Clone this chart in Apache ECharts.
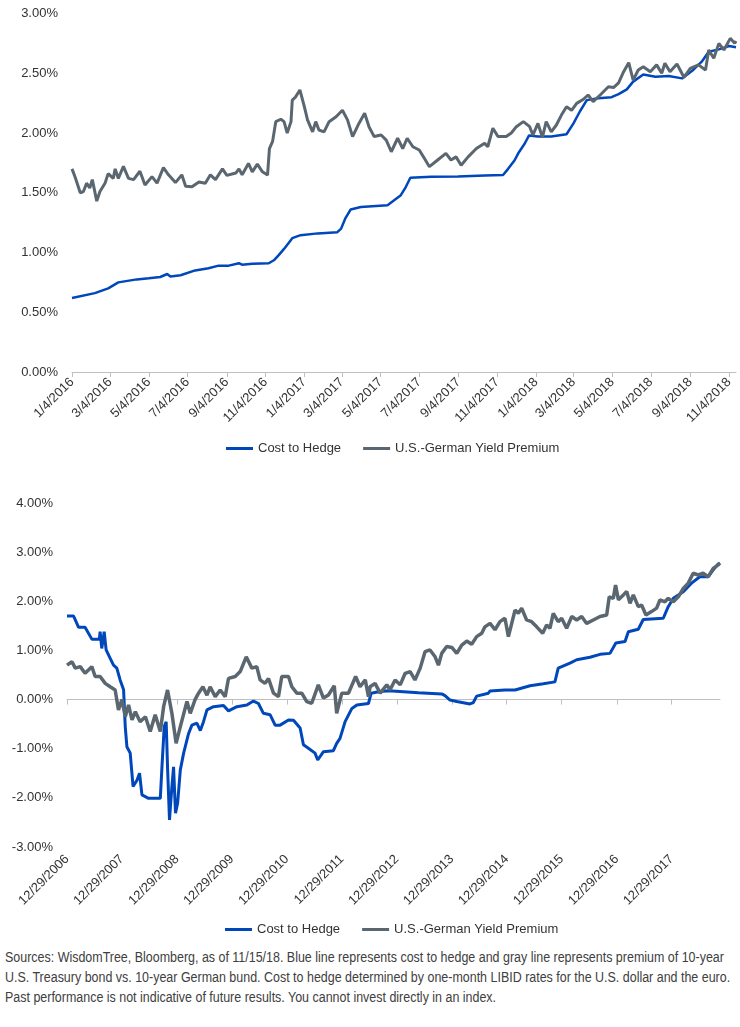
<!DOCTYPE html>
<html style="height: 100%">
<head>
<meta charset="utf-8">
<script src="https://cdn.jsdelivr.net/npm/echarts@6/dist/echarts.min.js"></script>
<style>
body { margin: 0; background: #fff; }
#container { position: absolute; left: 0; top: 0; width: 740px; height: 940px; }
#note { position: absolute; left: 5px; top: 947px; font-family: 'Liberation Sans', Arial, sans-serif; font-size: 14px; line-height: 20px; color: #404040; white-space: nowrap; transform: scaleX(0.89); transform-origin: 0 0; }
</style>
</head>
<body>
<div id="container"></div>
<div id="note">Sources: WisdomTree, Bloomberg, as of 11/15/18. Blue line represents cost to hedge and gray line represents premium of 10-year<br>U.S. Treasury bond vs. 10-year German bund. Cost to hedge determined by one-month LIBID rates for the U.S. dollar and the euro.<br>Past performance is not indicative of future results. You cannot invest directly in an index.</div>
<script>
// names
var nameHedge = 'Cost to Hedge';
var namePremium = 'U.S.-German Yield Premium';

// top chart: tick labels (every 2 months)
var ticksTop = ['1/4/2016', '3/4/2016', '5/4/2016', '7/4/2016', '9/4/2016', '11/4/2016',
	'1/4/2017', '3/4/2017', '5/4/2017', '7/4/2017', '9/4/2017', '11/4/2017',
	'1/4/2018', '3/4/2018', '5/4/2018', '7/4/2018', '9/4/2018', '11/4/2018'];

// bottom chart: tick labels (yearly)
var ticksBottom = ['12/29/2006', '12/29/2007', '12/29/2008', '12/29/2009', '12/29/2010', '12/29/2011',
	'12/29/2012', '12/29/2013', '12/29/2014', '12/29/2015', '12/29/2016', '12/29/2017'];

// date ranges of the two charts
var rangeTop = ['2016-01-04', '2018-11-15'];
var rangeBottom = ['2006-12-29', '2018-11-15'];

// top chart, cost to hedge (%)
var hedgeTop = [
	['2016-01-04', 0.62], ['2016-02-09', 0.66], ['2016-03-01', 0.70], ['2016-03-17', 0.75],
	['2016-04-15', 0.775], ['2016-05-04', 0.785], ['2016-05-22', 0.795], ['2016-06-02', 0.82],
	['2016-06-07', 0.80], ['2016-06-23', 0.81], ['2016-07-16', 0.85], ['2016-08-06', 0.868],
	['2016-08-22', 0.89], ['2016-09-07', 0.89], ['2016-09-23', 0.91], ['2016-09-28', 0.898],
	['2016-10-14', 0.905], ['2016-11-09', 0.91], ['2016-11-17', 0.935], ['2016-11-25', 0.98],
	['2016-12-03', 1.03], ['2016-12-16', 1.12], ['2016-12-29', 1.145], ['2017-01-25', 1.16],
	['2017-02-25', 1.17], ['2017-03-03', 1.20], ['2017-03-10', 1.29], ['2017-03-18', 1.36],
	['2017-04-03', 1.38], ['2017-05-15', 1.395], ['2017-05-26', 1.44], ['2017-06-05', 1.48],
	['2017-06-13', 1.55], ['2017-06-20', 1.625], ['2017-07-23', 1.633], ['2017-09-03', 1.637],
	['2017-10-15', 1.645], ['2017-11-13', 1.648], ['2017-11-21', 1.70], ['2017-12-01', 1.77],
	['2017-12-07', 1.83], ['2017-12-17', 1.91], ['2017-12-24', 1.98], ['2018-01-07', 1.97],
	['2018-01-28', 1.97], ['2018-02-21', 1.99], ['2018-03-04', 2.08], ['2018-03-14', 2.18],
	['2018-03-25', 2.275], ['2018-04-12', 2.29], ['2018-05-03', 2.30], ['2018-05-14', 2.325],
	['2018-05-27', 2.365], ['2018-06-06', 2.43], ['2018-06-22', 2.49], ['2018-07-11', 2.47],
	['2018-08-01', 2.477], ['2018-08-22', 2.457], ['2018-09-07', 2.52], ['2018-09-22', 2.597],
	['2018-10-03', 2.68], ['2018-10-19', 2.70], ['2018-11-04', 2.728], ['2018-11-15', 2.717]
];

// top chart, U.S.-German yield premium (%)
var premiumTop = [
	['2016-01-04', 1.70], ['2016-01-09', 1.63], ['2016-01-17', 1.50], ['2016-01-22', 1.51],
	['2016-01-27', 1.58], ['2016-02-01', 1.54], ['2016-02-05', 1.61], ['2016-02-12', 1.43],
	['2016-02-17', 1.51], ['2016-02-25', 1.58], ['2016-03-01', 1.66], ['2016-03-09', 1.62],
	['2016-03-12', 1.70], ['2016-03-17', 1.62], ['2016-03-25', 1.72], ['2016-04-02', 1.62],
	['2016-04-10', 1.61], ['2016-04-20', 1.68], ['2016-04-28', 1.565], ['2016-05-09', 1.635],
	['2016-05-17', 1.58], ['2016-05-27', 1.71], ['2016-06-04', 1.65], ['2016-06-15', 1.585],
	['2016-06-25', 1.65], ['2016-07-01', 1.555], ['2016-07-11', 1.55], ['2016-07-22', 1.59],
	['2016-08-01', 1.58], ['2016-08-09', 1.65], ['2016-08-17', 1.61], ['2016-08-28', 1.70],
	['2016-09-04', 1.645], ['2016-09-18', 1.665], ['2016-09-23', 1.70], ['2016-09-28', 1.65],
	['2016-10-08', 1.745], ['2016-10-14', 1.675], ['2016-10-22', 1.74], ['2016-10-30', 1.675],
	['2016-11-07', 1.648], ['2016-11-10', 1.87], ['2016-11-15', 1.93], ['2016-11-20', 2.095],
	['2016-11-28', 2.115], ['2016-12-03', 2.095], ['2016-12-08', 2.00], ['2016-12-14', 2.095],
	['2016-12-16', 2.276], ['2016-12-21', 2.30], ['2016-12-28', 2.36], ['2017-01-04', 2.22],
	['2017-01-09', 2.11], ['2017-01-17', 2.01], ['2017-01-22', 2.095], ['2017-01-27', 2.025],
	['2017-02-04', 2.01], ['2017-02-12', 2.095], ['2017-02-23', 2.136], ['2017-03-05', 2.19],
	['2017-03-13', 2.11], ['2017-03-21', 1.97], ['2017-03-31', 2.08], ['2017-04-09', 2.165],
	['2017-04-16', 2.05], ['2017-04-24', 1.97], ['2017-05-05', 1.983], ['2017-05-13', 1.94],
	['2017-05-21', 1.843], ['2017-05-31', 1.956], ['2017-06-08', 1.87], ['2017-06-15', 1.956],
	['2017-06-24', 1.885], ['2017-07-04', 1.858], ['2017-07-12', 1.788], ['2017-07-20', 1.718],
	['2017-08-02', 1.774], ['2017-08-15', 1.83], ['2017-08-23', 1.774], ['2017-08-31', 1.80],
	['2017-09-08', 1.73], ['2017-09-19', 1.80], ['2017-10-02', 1.87], ['2017-10-15', 1.914],
	['2017-10-20', 1.885], ['2017-10-28', 2.04], ['2017-11-05', 1.97], ['2017-11-18', 1.97],
	['2017-11-26', 2.00], ['2017-12-04', 2.053], ['2017-12-15', 2.095], ['2017-12-25', 2.053],
	['2017-12-30', 1.983], ['2018-01-07', 2.08], ['2018-01-14', 1.964], ['2018-01-20', 2.095],
	['2018-01-28', 2.01], ['2018-02-05', 2.067], ['2018-02-13', 2.15], ['2018-02-21', 2.22],
	['2018-03-01', 2.19], ['2018-03-09', 2.248], ['2018-03-19', 2.28], ['2018-03-27', 2.318],
	['2018-04-04', 2.262], ['2018-04-15', 2.318], ['2018-04-28', 2.387], ['2018-05-06', 2.38],
	['2018-05-14', 2.42], ['2018-05-22', 2.513], ['2018-05-30', 2.588], ['2018-06-06', 2.443],
	['2018-06-14', 2.527], ['2018-06-22', 2.555], ['2018-07-03', 2.513], ['2018-07-13', 2.57],
	['2018-07-21', 2.50], ['2018-07-26', 2.583], ['2018-08-03', 2.513], ['2018-08-14', 2.577],
	['2018-08-25', 2.466], ['2018-09-04', 2.54], ['2018-09-17', 2.57], ['2018-09-28', 2.527],
	['2018-10-03', 2.695], ['2018-10-11', 2.625], ['2018-10-19', 2.75], ['2018-10-27', 2.695],
	['2018-11-06', 2.792], ['2018-11-13', 2.75], ['2018-11-15', 2.77]
];

// bottom chart, cost to hedge (%)
var hedgeBottom = [
	['2006-12-29', 1.70], ['2007-02-11', 1.70], ['2007-03-16', 1.47], ['2007-04-28', 1.47],
	['2007-06-12', 1.23], ['2007-08-01', 1.23], ['2007-08-06', 1.38], ['2007-08-17', 1.04],
	['2007-09-02', 1.38], ['2007-09-15', 1.01], ['2007-10-12', 0.84], ['2007-11-03', 0.70],
	['2007-11-25', 0.64], ['2007-12-17', 0.40], ['2008-01-09', 0.20], ['2008-01-20', -0.55],
	['2008-01-31', -0.96], ['2008-02-22', -1.09], ['2008-03-12', -1.77], ['2008-04-07', -1.64],
	['2008-04-24', -1.50], ['2008-05-10', -1.94], ['2008-06-23', -2.01], ['2008-09-09', -2.01],
	['2008-09-20', -1.37], ['2008-10-05', -0.55], ['2008-10-18', -0.45], ['2008-10-27', -1.37],
	['2008-11-09', -2.45], ['2008-11-25', -1.77], ['2008-12-06', -1.37], ['2008-12-19', -2.31],
	['2009-01-02', -2.11], ['2009-01-20', -1.43], ['2009-02-11', -1.09], ['2009-03-16', -0.69],
	['2009-04-07', -0.52], ['2009-05-10', -0.48], ['2009-06-02', -0.63], ['2009-06-23', -0.45],
	['2009-07-16', -0.21], ['2009-08-29', -0.145], ['2009-11-03', -0.12], ['2009-12-06', -0.23],
	['2010-01-31', -0.145], ['2010-04-07', -0.11], ['2010-05-21', -0.03], ['2010-06-23', -0.08],
	['2010-07-26', -0.28], ['2010-09-09', -0.31], ['2010-10-12', -0.52], ['2010-11-14', -0.52],
	['2011-01-09', -0.415], ['2011-02-11', -0.42], ['2011-03-27', -0.58], ['2011-04-18', -0.92],
	['2011-05-21', -0.99], ['2011-07-04', -1.09], ['2011-07-22', -1.23], ['2011-08-29', -1.06],
	['2011-11-03', -1.04], ['2011-11-25', -0.89], ['2011-12-17', -0.79], ['2012-01-20', -0.45],
	['2012-03-05', -0.18], ['2012-04-07', -0.11], ['2012-06-23', -0.08], ['2012-07-11', 0.13],
	['2012-08-29', 0.16], ['2012-11-03', 0.18], ['2013-05-21', 0.14], ['2013-10-23', 0.115],
	['2013-11-14', 0.08], ['2013-12-17', -0.01], ['2014-01-31', -0.04], ['2014-04-28', -0.09],
	['2014-05-21', -0.06], ['2014-06-12', 0.07], ['2014-08-29', 0.13], ['2014-09-09', 0.175],
	['2014-12-17', 0.195], ['2015-02-22', 0.195], ['2015-06-02', 0.28], ['2015-08-29', 0.32],
	['2015-11-14', 0.36], ['2015-12-06', 0.64], ['2016-02-22', 0.74], ['2016-04-07', 0.81],
	['2016-07-04', 0.86], ['2016-09-09', 0.92], ['2016-11-14', 0.94], ['2016-12-23', 1.15],
	['2017-02-22', 1.18], ['2017-03-16', 1.38], ['2017-05-21', 1.43], ['2017-06-23', 1.63],
	['2017-11-03', 1.655], ['2017-12-06', 1.89], ['2018-01-09', 2.06], ['2018-03-16', 2.195],
	['2018-05-10', 2.37], ['2018-07-04', 2.50], ['2018-08-29', 2.50], ['2018-10-01', 2.64],
	['2018-11-03', 2.76], ['2018-11-15', 2.77]
];

// bottom chart, U.S.-German yield premium (%)
var premiumBottom = [
	['2006-12-29', 0.70], ['2007-01-31', 0.77], ['2007-02-22', 0.64], ['2007-03-27', 0.67],
	['2007-04-28', 0.535], ['2007-06-12', 0.67], ['2007-07-04', 0.47], ['2007-08-06', 0.47],
	['2007-09-09', 0.33], ['2007-10-12', 0.26], ['2007-11-14', 0.195], ['2007-12-06', -0.21],
	['2007-12-29', 0.0], ['2008-01-20', -0.35], ['2008-02-11', -0.11], ['2008-03-05', -0.415],
	['2008-03-27', -0.246], ['2008-04-28', -0.45], ['2008-06-02', -0.35], ['2008-07-04', -0.65],
	['2008-08-06', -0.31], ['2008-09-09', -0.65], ['2008-10-01', -0.145], ['2008-10-27', 0.195],
	['2008-11-25', -0.28], ['2008-12-23', -0.89], ['2009-01-20', -0.55], ['2009-03-05', -0.04],
	['2009-03-27', -0.28], ['2009-04-28', 0.0], ['2009-05-21', 0.13], ['2009-06-19', 0.26],
	['2009-07-16', 0.09], ['2009-08-06', 0.26], ['2009-09-09', 0.06], ['2009-10-12', 0.195],
	['2009-11-14', 0.06], ['2009-12-06', 0.43], ['2010-01-20', 0.47], ['2010-02-22', 0.57],
	['2010-04-03', 0.87], ['2010-05-10', 0.64], ['2010-06-12', 0.67], ['2010-07-04', 0.40],
	['2010-08-06', 0.33], ['2010-08-29', 0.43], ['2010-10-01', 0.13], ['2010-11-03', 0.06],
	['2010-11-25', 0.47], ['2011-01-09', 0.47], ['2011-01-31', 0.26], ['2011-03-05', 0.13],
	['2011-04-07', 0.13], ['2011-05-10', -0.04], ['2011-06-12', -0.075], ['2011-07-26', 0.30],
	['2011-08-29', 0.03], ['2011-10-01', 0.094], ['2011-11-09', 0.28], ['2011-11-25', -0.28],
	['2011-12-29', 0.13], ['2012-02-11', 0.13], ['2012-03-30', 0.47], ['2012-04-28', 0.26],
	['2012-06-02', 0.40], ['2012-06-23', 0.06], ['2012-07-04', 0.26], ['2012-08-06', 0.33],
	['2012-09-09', 0.13], ['2012-10-23', 0.30], ['2012-11-14', 0.20], ['2012-12-17', 0.40],
	['2013-01-20', 0.30], ['2013-02-22', 0.535], ['2013-03-27', 0.57], ['2013-04-28', 0.40],
	['2013-06-02', 0.64], ['2013-07-04', 0.975], ['2013-08-06', 1.01], ['2013-09-09', 0.87],
	['2013-10-01', 0.70], ['2013-10-23', 0.94], ['2013-11-25', 1.08], ['2013-12-29', 1.06],
	['2014-01-31', 0.94], ['2014-03-05', 1.11], ['2014-04-07', 1.19], ['2014-05-10', 1.125],
	['2014-06-12', 1.28], ['2014-07-16', 1.35], ['2014-08-06', 1.48], ['2014-09-09', 1.55],
	['2014-10-12', 1.42], ['2014-11-14', 1.585], ['2014-12-17', 1.655], ['2015-01-09', 1.28],
	['2015-01-31', 1.55], ['2015-02-22', 1.82], ['2015-03-16', 1.755], ['2015-04-07', 1.86],
	['2015-05-10', 1.62], ['2015-06-12', 1.585], ['2015-07-16', 1.48], ['2015-08-25', 1.35],
	['2015-09-20', 1.52], ['2015-10-12', 1.45], ['2015-11-03', 1.755], ['2015-12-06', 1.585],
	['2015-12-29', 1.655], ['2016-01-31', 1.45], ['2016-03-05', 1.69], ['2016-04-07', 1.62],
	['2016-05-10', 1.69], ['2016-06-12', 1.55], ['2016-07-26', 1.62], ['2016-09-09', 1.69],
	['2016-10-23', 1.72], ['2016-11-09', 2.09], ['2016-12-06', 2.06], ['2016-12-21', 2.33],
	['2017-01-09', 2.03], ['2017-02-11', 2.13], ['2017-03-05', 2.20], ['2017-03-27', 1.96],
	['2017-04-18', 2.13], ['2017-05-21', 1.89], ['2017-06-12', 1.925], ['2017-07-11', 1.72],
	['2017-08-17', 1.79], ['2017-09-20', 1.86], ['2017-10-12', 2.03], ['2017-11-14', 1.99],
	['2017-12-06', 2.06], ['2018-01-09', 1.99], ['2018-02-11', 2.09], ['2018-03-16', 2.26],
	['2018-04-18', 2.37], ['2018-05-21', 2.57], ['2018-06-23', 2.535], ['2018-07-26', 2.57],
	['2018-08-29', 2.50], ['2018-10-01', 2.67], ['2018-11-03', 2.74], ['2018-11-15', 2.78]
];

var blue = '#0047BB';
var gray = '#5B6770';
var axisGray = '#BFBFBF';
var textColor = '#333333';
var font = 'Liberation Sans';

// 'YYYY-MM-DD' -> timestamp
function parseIso(s) {
	var p = s.split('-');
	return Date.UTC(+p[0], +p[1] - 1, +p[2]);
}
// 'M/D/YYYY' -> timestamp
function parseLabel(s) {
	var p = s.split('/');
	return Date.UTC(+p[2], +p[0] - 1, +p[1]);
}
function fmtDate(v) {
	var d = new Date(Math.round(v));
	return (d.getUTCMonth() + 1) + '/' + d.getUTCDate() + '/' + d.getUTCFullYear();
}
function fmtPct(v) {
	return v.toFixed(2) + '%';
}
function toPoints(arr) {
	return arr.map(function (d) { return [parseIso(d[0]), d[1]]; });
}

var tickTopVals = ticksTop.map(parseLabel);
var tickBottomVals = ticksBottom.map(parseLabel);

var dom = document.getElementById('container');
var myChart = echarts.init(dom, null, { renderer: 'canvas' });

function labelStyle(extra) {
	return Object.assign({ color: textColor, fontFamily: font, fontSize: 13 }, extra);
}

var option = {
	animation: false,
	backgroundColor: '#fff',
	grid: [
		{ left: 72, right: 4, top: 13.5, height: 358.5 },
		{ left: 67, right: 20, top: 503, height: 344 }
	],
	legend: [
		{
			left: 221, top: 437, icon: 'rect', itemWidth: 27, itemHeight: 3, itemGap: 22,
			textStyle: { color: textColor, fontFamily: font, fontSize: 13 },
			data: [nameHedge, namePremium]
		},
		{
			left: 220, top: 918, icon: 'rect', itemWidth: 27, itemHeight: 3, itemGap: 22,
			textStyle: { color: textColor, fontFamily: font, fontSize: 13 },
			data: [nameHedge, namePremium]
		}
	],
	xAxis: [
		{
			gridIndex: 0, type: 'value', position: 'bottom',
			min: parseIso(rangeTop[0]), max: parseIso(rangeTop[1]),
			axisLine: { onZero: false, lineStyle: { color: axisGray, width: 1 } },
			axisTick: { show: true, length: 5, lineStyle: { color: axisGray }, customValues: tickTopVals },
			axisLabel: labelStyle({ rotate: 45, margin: 8, customValues: tickTopVals, formatter: fmtDate }),
			splitLine: { show: false }
		},
		{
			// zero line with ticks
			gridIndex: 1, type: 'value', position: 'bottom',
			min: parseIso(rangeBottom[0]), max: parseIso(rangeBottom[1]),
			axisLine: { onZero: true, lineStyle: { color: axisGray, width: 1 } },
			axisTick: { show: true, length: 5, lineStyle: { color: axisGray }, customValues: tickBottomVals },
			axisLabel: { show: false },
			splitLine: { show: false }
		},
		{
			// labels at the bottom
			gridIndex: 1, type: 'value', position: 'bottom',
			min: parseIso(rangeBottom[0]), max: parseIso(rangeBottom[1]),
			axisLine: { show: false, onZero: false },
			axisTick: { show: false },
			axisLabel: labelStyle({ rotate: 45, margin: 10, customValues: tickBottomVals, formatter: fmtDate }),
			splitLine: { show: false }
		}
	],
	yAxis: [
		{
			gridIndex: 0, type: 'value', min: 0, max: 3, interval: 0.5,
			axisLine: { show: false }, axisTick: { show: false }, splitLine: { show: false },
			axisLabel: labelStyle({ margin: 14, formatter: fmtPct })
		},
		{
			gridIndex: 1, type: 'value', min: -3, max: 4, interval: 1,
			axisLine: { show: false }, axisTick: { show: false }, splitLine: { show: false },
			axisLabel: labelStyle({ margin: 14, formatter: fmtPct })
		}
	],
	series: [
		{
			name: nameHedge, type: 'line', xAxisIndex: 0, yAxisIndex: 0,
			showSymbol: false, symbol: 'none', color: blue,
			lineStyle: { color: blue, width: 2.5 }, data: toPoints(hedgeTop)
		},
		{
			name: namePremium, type: 'line', xAxisIndex: 0, yAxisIndex: 0,
			showSymbol: false, symbol: 'none', color: gray,
			lineStyle: { color: gray, width: 3 }, data: toPoints(premiumTop)
		},
		{
			name: nameHedge, type: 'line', xAxisIndex: 1, yAxisIndex: 1,
			showSymbol: false, symbol: 'none', color: blue,
			lineStyle: { color: blue, width: 3 }, data: toPoints(hedgeBottom)
		},
		{
			name: namePremium, type: 'line', xAxisIndex: 1, yAxisIndex: 1,
			showSymbol: false, symbol: 'none', color: gray,
			lineStyle: { color: gray, width: 3.5 }, data: toPoints(premiumBottom)
		}
	]
};

if (option && typeof option === 'object') {
	myChart.setOption(option, true);
}
</script>
</body>
</html>
